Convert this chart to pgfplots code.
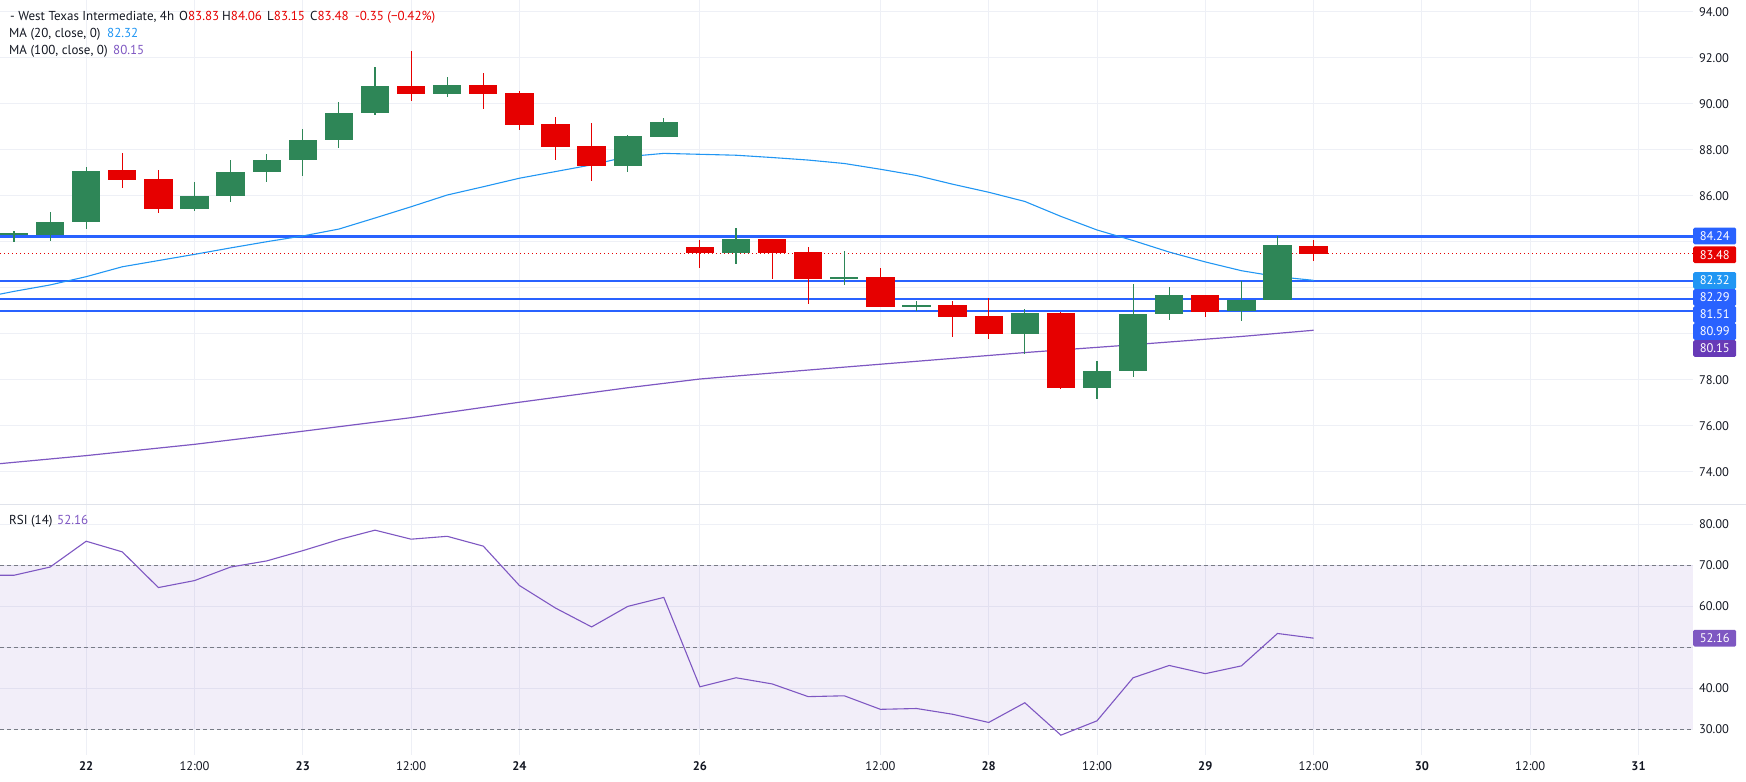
\documentclass[border=0pt]{standalone}
\usepackage{fontspec}
\setmainfont{PT Sans}
\usepackage{pgfplots}
\pgfplotsset{compat=1.18}
\usepackage{pgfplotstable}

\definecolor{upgreen}{RGB}{46,134,87}
\definecolor{dnred}{RGB}{230,0,0}
\definecolor{lvlblue}{RGB}{41,98,255}
\definecolor{maA}{RGB}{33,150,243}
\definecolor{maB}{RGB}{126,87,194}
\definecolor{boxpurple}{RGB}{103,58,183}
\definecolor{gridc}{RGB}{238,240,246}
\definecolor{txt}{RGB}{19,23,34}
\definecolor{dashc}{RGB}{120,123,134}
\definecolor{sepc}{RGB}{224,227,235}

\newcommand\tvfont{\fontsize{12.5bp}{15bp}\selectfont}
\newcommand\lgfont{\fontsize{13bp}{15bp}\selectfont}

% 4h candles, x = candle index (0 = 22 00:00)
\pgfplotstableread{
i  o     h     l     c
-2 84.29 84.46 84.00 84.36
-1 84.29 85.29 84.03 84.86
0  84.86 87.25 84.55 87.07
3  85.42 86.60 85.33 85.99
4  85.99 87.55 85.73 87.03
5  87.03 87.81 86.60 87.55
6  87.55 88.90 86.87 88.42
7  88.42 90.07 88.09 89.60
8  89.60 91.60 89.52 90.77
10 90.43 91.16 90.29 90.81
15 87.29 88.64 87.03 88.59
16 88.55 89.38 88.55 89.20
18 83.52 84.60 83.03 84.12
21 82.40 83.60 82.11 82.45
23 81.20 81.42 80.99 81.24
26 79.99 81.07 79.12 80.90
28 77.64 78.81 77.16 78.38
29 78.38 82.16 78.12 80.85
30 80.85 82.03 80.59 81.68
32 80.99 82.29 80.55 81.46
33 81.48 84.24 81.48 83.85
}\upcandles

\pgfplotstableread{
i  o     h     l     c
1  87.12 87.86 86.35 86.69
2  86.73 87.12 85.25 85.42
9  90.77 92.29 90.12 90.43
11 90.81 91.33 89.77 90.43
12 90.47 90.55 88.86 89.08
13 89.12 89.42 87.55 88.12
14 88.16 89.16 86.64 87.29
17 83.77 84.07 82.86 83.52
19 84.12 84.12 82.38 83.52
20 83.55 83.77 81.29 82.38
22 82.47 82.86 81.16 81.16
24 81.25 81.42 79.86 80.73
25 80.77 81.55 79.77 79.99
27 80.90 80.94 77.60 77.64
31 81.68 81.68 80.73 80.94
34 83.83 84.06 83.15 83.48
}\dncandles

\pgfplotstableread{
i      v
-2.388 81.72
-2     81.84
-1     82.12
0      82.48
1      82.91
2      83.18
3      83.45
4      83.73
5      84.00
6      84.25
7      84.55
8      85.03
9      85.52
10     86.03
11     86.39
12     86.76
13     87.05
14     87.34
15     87.70
16     87.84
17     87.80
18     87.76
19     87.66
20     87.55
21     87.40
22     87.15
23     86.88
24     86.50
25     86.15
26     85.75
27     85.10
28     84.51
29     84.05
30     83.55
31     83.12
32     82.74
33     82.48
34     82.32
}\maTwenty

\pgfplotstableread{
i      v
-2.388 74.35
0      74.70
3      75.19
6      75.76
9      76.35
12     77.02
15     77.65
17     78.03
20     78.42
23     78.80
26     79.18
29     79.52
32     79.88
34     80.15
}\maHundred

\pgfplotstableread{
i      r
-2.388 67.5
-2     67.5
-1     69.5
0      75.8
1      73.2
2      64.5
3      66.2
4      69.5
5      71.0
6      73.5
7      76.2
8      78.5
9      76.3
10     77.0
11     74.6
12     65.0
13     59.5
14     54.9
15     59.9
16     62.1
17     40.3
18     42.5
19     41.0
20     37.9
21     38.1
22     34.8
23     35.0
24     33.6
25     31.6
26     36.4
27     28.5
28     32.0
29     42.5
30     45.5
31     43.5
32     45.4
33     53.3
34     52.16
}\rsidata

\tikzset{
  vbox/.style={fill=#1, text=white, font=\tvfont, anchor=west,
    minimum width=43bp, minimum height=16.8bp, inner sep=0pt,
    rounded corners=1.5bp},
}

\pgfplotsset{
  tvpane/.style={
    scale only axis,
    width=1693bp,
    xmin=-2.388, xmax=44.51,
    axis line style={draw=none},
    tick style={draw=none},
    major tick length=0pt,
    grid=major,
    major grid style={gridc, line width=1bp},
    xtick={0,3,6,9,12,17,22,25,28,31,34,37,40,43},
    yticklabel pos=right,
    yticklabel style={font=\tvfont, text=txt, anchor=west, xshift=2.5bp},
    clip mode=individual,
  },
  body/.style={draw=none, mark=none,
    error bars/.cd, y dir=both, y explicit, error mark=none,
    error bar style={draw=#1, line width=28.3bp, line cap=butt}},
  wick/.style={draw=none, mark=none,
    error bars/.cd, y dir=both, y explicit, error mark=none,
    error bar style={draw=#1, line width=1.1bp, line cap=butt}},
}

\begin{document}
\begin{tikzpicture}
\path[use as bounding box] (0bp,0bp) rectangle (1746bp,-782bp);

% ---------- price pane ----------
\begin{axis}[tvpane,
  at={(0bp,0bp)}, anchor=north west,
  height=504bp,
  ymin=72.5957, ymax=94.5087,
  ytick={74,76,...,94},
  % levels hidden behind the value tags carry no label
  yticklabels={74.00,76.00,78.00,,,,86.00,88.00,90.00,92.00,94.00},
  xticklabels={},
]
% support / resistance levels
\addplot[lvlblue, line width=2.7bp] coordinates {(-2.388,84.24) (44.51,84.24)};
\addplot[lvlblue, line width=2.7bp] coordinates {(-2.388,82.29) (44.51,82.29)};
\addplot[lvlblue, line width=2.7bp] coordinates {(-2.388,81.51) (44.51,81.51)};
\addplot[lvlblue, line width=2.7bp] coordinates {(-2.388,80.99) (44.51,80.99)};
% last close
\addplot[dnred, line width=1.2bp, dash pattern=on 1.3bp off 2.7bp] coordinates {(-2.388,83.48) (44.51,83.48)};
% moving averages
\addplot[maA, line width=1.1bp] table[x=i, y=v] {\maTwenty};
\addplot[maB, line width=1.2bp] table[x=i, y=v] {\maHundred};
% candles: wicks, then bodies
\addplot[wick=upgreen] table[x=i, y expr={(\thisrow{h}+\thisrow{l})/2}, y error expr={(\thisrow{h}-\thisrow{l})/2}] {\upcandles};
\addplot[wick=dnred] table[x=i, y expr={(\thisrow{h}+\thisrow{l})/2}, y error expr={(\thisrow{h}-\thisrow{l})/2}] {\dncandles};
\addplot[body=upgreen] table[x=i, y expr={(\thisrow{o}+\thisrow{c})/2}, y error expr={abs(\thisrow{c}-\thisrow{o})/2}] {\upcandles};
\addplot[body=dnred] table[x=i, y expr={(\thisrow{o}+\thisrow{c})/2}, y error expr={abs(\thisrow{c}-\thisrow{o})/2}] {\dncandles};
% price-scale value tags
\node[vbox=lvlblue]   at (axis cs:44.51,84.248) {84.24};
\node[vbox=dnred]     at (axis cs:44.51,83.435) {83.48};
\node[vbox=maA]       at (axis cs:44.51,82.314) {82.32};
\node[vbox=lvlblue]   at (axis cs:44.51,81.574) {82.29};
\node[vbox=lvlblue]   at (axis cs:44.51,80.835) {81.51};
\node[vbox=lvlblue]   at (axis cs:44.51,80.096) {80.99};
\node[vbox=boxpurple] at (axis cs:44.51,79.357) {80.15};
\end{axis}

% ---------- RSI pane ----------
\begin{axis}[tvpane,
  at={(0bp,-504bp)}, anchor=north west,
  height=251bp,
  ymin=23.659, ymax=84.878,
  ytick={30,40,...,80},
  yticklabels={30.00,40.00,,60.00,70.00,80.00},
  xticklabels={\textbf{22},12:00,\textbf{23},12:00,\textbf{24},\textbf{26},12:00,\textbf{28},12:00,\textbf{29},12:00,\textbf{30},12:00,\textbf{31}},
  xticklabel style={font=\tvfont, text=txt, yshift=-3bp},
]
\addplot[draw=none, fill=maB, fill opacity=0.1] coordinates {(-2.388,30) (44.51,30) (44.51,70) (-2.388,70)} -- cycle;
\addplot[dashc, line width=1bp, dash pattern=on 4bp off 3bp] coordinates {(-2.388,70) (44.51,70)};
\addplot[dashc, line width=1bp, dash pattern=on 4bp off 3bp] coordinates {(-2.388,50) (44.51,50)};
\addplot[dashc, line width=1bp, dash pattern=on 4bp off 3bp] coordinates {(-2.388,30) (44.51,30)};
\addplot[maB, line width=1.1bp] table[x=i, y=r] {\rsidata};
\node[vbox=maB] at (axis cs:44.51,52.16) {52.16};
\end{axis}

% pane separator
\draw[sepc, line width=1bp] (0bp,-504bp) -- (1746bp,-504bp);

% legends
\begin{scope}[every node/.style={anchor=base west, inner sep=0pt, font=\lgfont, text=txt}]
\node at (10bp,-20bp) {- West Texas Intermediate, 4h};
\node at (179bp,-20bp) {O\textcolor{dnred}{83.83}};
\node at (222bp,-20bp) {H\textcolor{dnred}{84.06}};
\node at (267bp,-20bp) {L\textcolor{dnred}{83.15}};
\node at (310bp,-20bp) {C\textcolor{dnred}{83.48}};
\node at (355bp,-20bp) {\textcolor{dnred}{-0.35 (−0.42\%)}};
\node at (9bp,-37bp) {MA (20, close, 0)};
\node at (107bp,-37bp) {\textcolor{maA}{82.32}};
\node at (9bp,-54bp) {MA (100, close, 0)};
\node at (113bp,-54bp) {\textcolor{maB}{80.15}};
\node at (9bp,-524bp) {RSI (14)};
\node at (57bp,-524bp) {\textcolor{maB}{52.16}};
\end{scope}
\end{tikzpicture}
\end{document}
